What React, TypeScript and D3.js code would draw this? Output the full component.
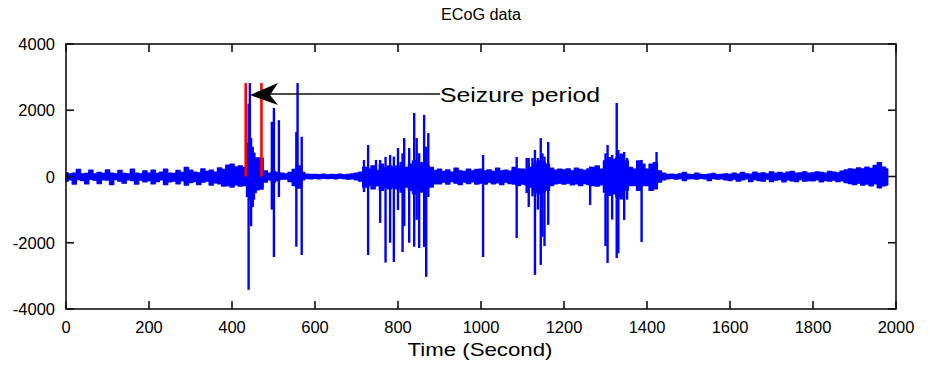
import React from 'react';
import * as d3 from 'd3';

const xTicks = [0, 200, 400, 600, 800, 1000, 1200, 1400, 1600, 1800, 2000];
const yTicks = [-4000, -2000, 0, 2000, 4000];

// Baseline envelope, one value per 10 s block
const baseStep = 10;
const baseUpper = [
  110, 80, 100, 210, 80, 90, 190, 80, 120, 90, 200, 100, 80, 180, 90, 80, 220, 100, 80, 170,
  100, 190, 90, 130, 220, 100, 90, 180, 120, 270, 190, 130, 110, 230, 150, 190, 130, 260, 210, 340,
  370, 290, 320, 270, 1000, 700, 560, 560, 170, 100, 150, 120, 100, 80, 120, 210, 320, 120, 70, 60,
  60, 55, 70, 50, 60, 55, 70, 50, 60, 80, 100, 130, 270, 220, 320, 180, 370, 270, 320, 270,
  320, 420, 270, 370, 470, 370, 420, 320, 270, 180, 220, 150, 200, 130, 250, 170, 150, 220, 170, 210,
  220, 170, 200, 150, 250, 170, 190, 160, 270, 230, 220, 200, 270, 370, 470, 420, 370, 250, 190, 220,
  200, 230, 170, 250, 210, 180, 230, 270, 320, 220, 470, 570, 520, 570, 670, 470, 270, 220, 470, 370,
  220, 370, 420, 170, 100, 60, 70, 55, 80, 120, 60, 55, 100, 60, 55, 70, 90, 55, 60, 80,
  60, 100, 70, 120, 80, 70, 130, 90, 110, 80, 140, 100, 120, 90, 130, 150, 100, 110, 140, 100,
  110, 140, 120, 100, 150, 130, 110, 160, 200, 230, 210, 260, 230, 280, 240, 330, 420, 280, 230,
];
const baseLower = [
  -140, -100, -230, -90, -120, -220, -80, -110, -210, -100, -110, -240, -90, -140, -200, -100, -120, -230, -110, -160,
  -120, -220, -150, -100, -240, -160, -140, -220, -130, -260, -180, -150, -240, -170, -140, -260, -190, -220, -290, -270,
  -320, -250, -290, -270, -600, -450, -400, -380, -170, -100, -170, -120, -80, -80, -150, -270, -350, -100, -60, -70,
  -55, -70, -50, -60, -55, -70, -50, -60, -80, -70, -100, -140, -320, -270, -370, -270, -420, -320, -370, -320,
  -370, -470, -320, -420, -520, -370, -470, -350, -320, -220, -220, -170, -230, -150, -200, -240, -170, -210, -160, -230,
  -200, -230, -170, -220, -190, -240, -170, -210, -230, -270, -230, -250, -320, -470, -520, -470, -420, -270, -220, -200,
  -230, -200, -250, -220, -270, -210, -240, -270, -290, -250, -470, -570, -520, -620, -670, -420, -270, -270, -420, -270,
  -270, -420, -370, -170, -100, -70, -55, -80, -60, -120, -70, -60, -80, -55, -70, -120, -60, -80, -70, -100,
  -120, -80, -140, -100, -70, -150, -90, -120, -140, -80, -150, -110, -90, -160, -100, -130, -150, -90, -140, -120,
  -130, -100, -160, -120, -140, -110, -150, -130, -180, -210, -240, -200, -260, -230, -280, -220, -340, -280, -260,
];

// Spikes: [time (s), min, max]
const spikes: [number, number, number][] = [
  [440, -3420, 2200], [443, -700, 2820], [446, -1500, 1160], [450, -920, 900], [453, -700, 700],
  [457, -500, 560], [462, -400, 560], [468, -380, 560], [472, -350, 560],
  [496, -1000, 1650], [501, -2430, 2070], [513, -620, 1700],
  [555, -2120, 1340], [558, -300, 2820], [568, -2370, 1200],
  [718, -470, 500], [728, -2370, 950], [747, -300, 500], [757, -1400, 500], [770, -2600, 590],
  [781, -2000, 650], [790, -2580, 600], [800, -1010, 860], [811, -2280, 700], [815, -1500, 1160],
  [827, -2000, 860], [839, -2120, 1920], [845, -1310, 1160], [851, -2160, 700], [863, -2130, 1860],
  [868, -3030, 900], [873, -620, 1310],
  [1005, -2430, 650], [1086, -1860, 590], [1110, -500, 560], [1115, -920, 560], [1124, -600, 560],
  [1130, -2970, 800], [1137, -1000, 560], [1144, -2670, 1160], [1148, -1820, 700], [1153, -2100, 600],
  [1162, -1460, 1040],
  [1263, -860, 300], [1300, -2100, 700], [1305, -2610, 950], [1316, -1300, 650], [1327, -2460, 2220],
  [1331, -2320, 800], [1345, -1310, 740], [1352, -700, 560], [1387, -1980, 500], [1423, -350, 740],
];

const seizureMarks = [433, 471];
const seizureTop = 2820;

const W = 930;
const H = 368;
const x = d3.scaleLinear().domain([0, 2000]).range([66, 896]);
const y = d3.scaleLinear().domain([-4000, 4000]).range([309, 44]);

const FONT = '"Liberation Sans", Arial, Helvetica, sans-serif';

export default function App() {
  const basePts = baseUpper.map((u, i) => ({ t: i * baseStep, u, l: baseLower[i] }));
  const area = d3
    .area<{ t: number; u: number; l: number }>()
    .x((d) => x(d.t))
    .y0((d) => y(d.l))
    .y1((d) => y(d.u))
    .curve(d3.curveStep);
  const [x0, x1] = x.range();
  const [yb, yt] = y.range();
  const tickLen = 8;

  return (
    <svg
      width={W}
      height={H}
      style={{ position: 'absolute', left: 0, top: 0, background: '#fff' }}
      fontFamily={FONT}
    >
      <rect x={0} y={0} width={W} height={H} fill="#fff" />
      <text x={481} y={20} fontSize={16} textAnchor="middle" textLength={80} lengthAdjust="spacingAndGlyphs" fill="#000">
        ECoG data
      </text>

      {/* signal */}
      <path d={area(basePts) || ''} fill="#0000ff" stroke="#0000ff" strokeWidth={1.4} strokeLinejoin="round" />
      {spikes.map(([t, lo, hi], i) => (
        <line key={'s' + i} x1={x(t)} x2={x(t)} y1={y(lo)} y2={y(hi)} stroke="#0000ff" strokeWidth={2.4} />
      ))}
      {seizureMarks.map((t, i) => (
        <line key={'r' + i} x1={x(t)} x2={x(t)} y1={y(0)} y2={y(seizureTop)} stroke="#ff0000" strokeWidth={2.6} />
      ))}

      {/* axes box */}
      <rect x={x0} y={yt} width={x1 - x0} height={yb - yt} fill="none" stroke="#111" strokeWidth={1.6} />
      {xTicks.map((v) => (
        <g key={'xt' + v}>
          <line x1={x(v)} x2={x(v)} y1={yb} y2={yb - tickLen} stroke="#111" strokeWidth={1.6} />
          <line x1={x(v)} x2={x(v)} y1={yt} y2={yt + tickLen} stroke="#111" strokeWidth={1.6} />
          <text x={x(v)} y={333} fontSize={16.5} textAnchor="middle" fill="#000">
            {v}
          </text>
        </g>
      ))}
      {yTicks.map((v) => (
        <g key={'yt' + v}>
          <line x1={x0} x2={x0 + tickLen} y1={y(v)} y2={y(v)} stroke="#111" strokeWidth={1.6} />
          <line x1={x1} x2={x1 - tickLen} y1={y(v)} y2={y(v)} stroke="#111" strokeWidth={1.6} />
          <text x={55} y={y(v) + 6} fontSize={16.5} textAnchor="end" fill="#000">
            {v}
          </text>
        </g>
      ))}
      <text x={480} y={356} fontSize={18.5} textAnchor="middle" textLength={145} lengthAdjust="spacingAndGlyphs" fill="#000">
        Time (Second)
      </text>

      {/* annotation */}
      <line x1={440} x2={266} y1={94} y2={94} stroke="#111" strokeWidth={1.5} />
      <path d="M250,95 L278,83 L270,95 L278,105 Z" fill="#000" />
      <text x={440} y={101.5} fontSize={21} textLength={160} lengthAdjust="spacingAndGlyphs" fill="#000">
        Seizure period
      </text>
    </svg>
  );
}
